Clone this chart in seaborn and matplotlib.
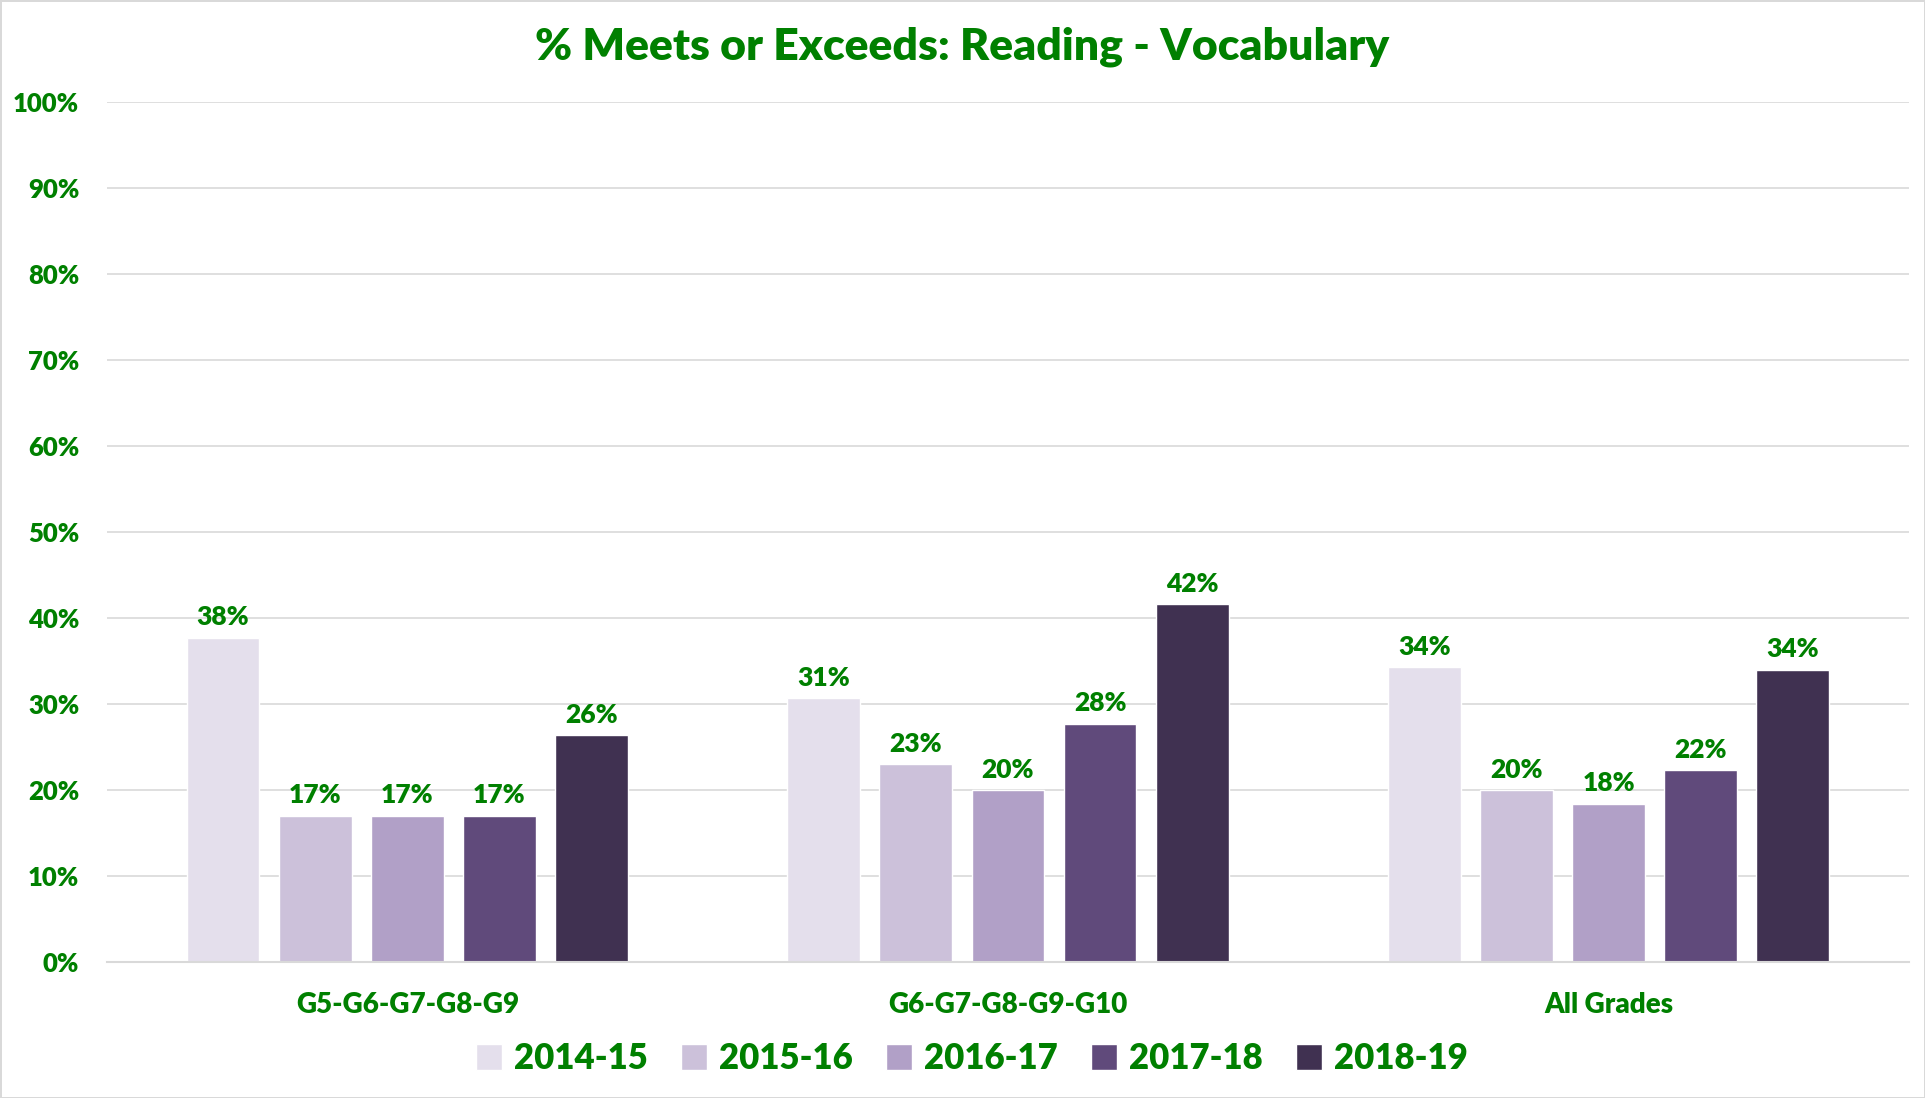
import pandas as pd
import matplotlib.pyplot as plt
import seaborn as sns
from matplotlib.ticker import PercentFormatter

# chart data
groups = ["G5-G6-G7-G8-G9", "G6-G7-G8-G9-G10", "All Grades"]
years = ["2014-15", "2015-16", "2016-17", "2017-18", "2018-19"]
y2014 = [37.7, 30.7, 34.3]
y2015 = [17.0, 23.0, 20.0]
y2016 = [17.0, 20.0, 18.4]
y2017 = [17.0, 27.7, 22.3]
y2018 = [26.4, 41.6, 34.0]
colors = ["#e4dfec", "#ccc1da", "#b1a0c7", "#604a7b", "#403151"]
green = "#008000"

series = [y2014, y2015, y2016, y2017, y2018]
rows = []
for yr, vals in zip(years, series):
    for g, v in zip(groups, vals):
        rows.append({"group": g, "year": yr, "value": v})
df = pd.DataFrame(rows)

sns.set_style("white")
plt.rcParams["font.family"] = ["Lato", "DejaVu Sans"]
plt.rcParams["font.weight"] = "bold"

fig = plt.figure(figsize=(19.25, 10.98), dpi=100)
fig.patch.set_edgecolor("#d9d9d9")
fig.patch.set_linewidth(2)
ax = fig.add_axes([0.0556, 0.124, 0.936, 0.783])

sns.barplot(data=df, x="group", y="value", hue="year", palette=colors,
            width=0.767, gap=0.21, ax=ax, saturation=1, legend=True)

for cont in ax.containers:
    ax.bar_label(cont, labels=[f"{v:.0f}%" for v in cont.datavalues],
                 padding=6, color=green, fontsize=19, fontweight="heavy")

ax.set_ylim(0, 100)
ax.set_yticks(range(0, 101, 10))
ax.yaxis.set_major_formatter(PercentFormatter(decimals=0))
ax.grid(axis="y", color="#d9d9d9", linewidth=1.2)
ax.set_axisbelow(True)
for s in ["top", "right", "left"]:
    ax.spines[s].set_visible(False)
ax.spines["bottom"].set_color("#d9d9d9")
ax.spines["bottom"].set_linewidth(1.5)
ax.tick_params(axis="y", length=0, pad=20, labelsize=18.5, labelcolor=green)
ax.tick_params(axis="x", length=0, pad=22, labelsize=20, labelcolor=green)
for lab in ax.get_xticklabels() + ax.get_yticklabels():
    lab.set_fontweight("heavy")
ax.set_xlabel("")
ax.set_ylabel("")
ax.set_xlim(-0.5, 2.5)

fig.suptitle("% Meets or Exceeds: Reading - Vocabulary", color=green,
             fontsize=32, fontweight="heavy", x=0.5, y=0.957, va="center")

handles, labels = ax.get_legend_handles_labels()
ax.get_legend().remove()
leg = fig.legend(handles, labels, loc="center", bbox_to_anchor=(0.505, 0.036),
                 ncol=5, frameon=False, fontsize=25, handlelength=0.75,
                 handleheight=0.75, columnspacing=0.95, handletextpad=0.35)
for t in leg.get_texts():
    t.set_color(green)
    t.set_fontweight("heavy")

fig.savefig("out.png", dpi=100)
